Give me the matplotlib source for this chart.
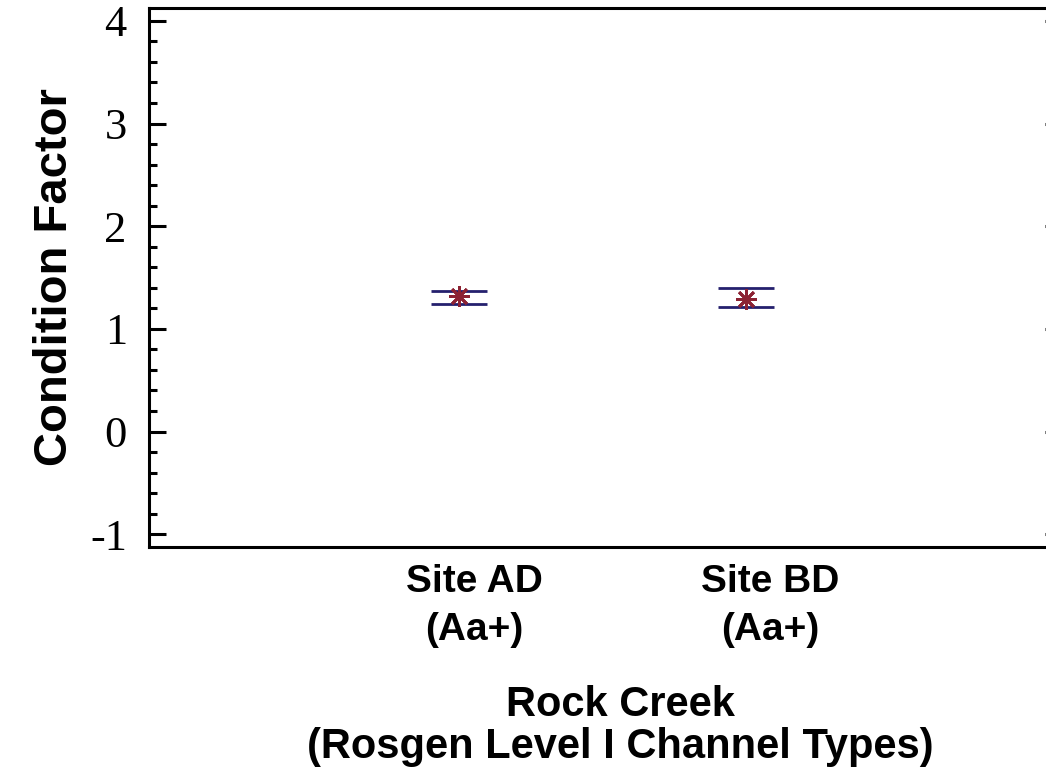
import numpy as np
import matplotlib
matplotlib.use("Agg")
from matplotlib import pyplot as plt
from matplotlib.ticker import MultipleLocator

sites = ["Site AD\n(Aa+)", "Site BD\n(Aa+)"]
means = [1.32, 1.29]
upper = [1.37, 1.40]
lower = [1.245, 1.215]
yticks = [-1, 0, 1, 2, 3, 4]

blue = "#25206e"
red = "#8c2233"

fig = plt.figure(figsize=(10.46, 7.75), dpi=100)
ax = fig.add_axes([149 / 1046, 1 - 547 / 775, 899 / 1046, 539 / 775])

x = np.arange(1, len(sites) + 1)
m = np.array(means)
yerr = [m - np.array(lower), np.array(upper) - m]
ax.errorbar(x, m, yerr=yerr, fmt="none", ecolor=blue, elinewidth=2,
            capsize=20, capthick=2, zorder=2)
ax.plot(x, m, linestyle="none", marker=(8, 2, 0), markersize=15,
        markeredgewidth=2, color=red, zorder=3)

ax.set_xlim(-0.08, 3.05)
ax.set_ylim(-1.125, 4.125)
ax.set_yticks(yticks)
ax.set_yticklabels([str(v) for v in yticks], fontfamily="Liberation Serif",
                   fontsize=32)
ax.yaxis.set_minor_locator(MultipleLocator(0.2))
ax.set_xticks([])
ax.tick_params(axis="y", which="major", direction="in", length=12, width=2.2,
               right=True, pad=16)
ax.tick_params(axis="y", which="minor", direction="in", length=6, width=2.2,
               right=False)
for t in ax.yaxis.get_major_ticks():
    t.tick2line.set_markersize(2.2)

for s in ax.spines.values():
    s.set_linewidth(2.2)

# category labels sit a little right of the marks, as in the original
shifts = [11, 17]
for xi, lab, dx in zip(x, sites, shifts):
    ax.annotate(lab, xy=(xi, 0), xycoords=ax.get_xaxis_transform(),
                xytext=(dx, -12), textcoords="offset points",
                ha="center", va="top", multialignment="center",
                fontfamily="Liberation Sans", fontweight="bold",
                fontsize=28, linespacing=1.45, annotation_clip=False)

ax.set_ylabel("Condition Factor", fontfamily="Liberation Sans",
              fontweight="bold", fontsize=34, labelpad=9)
ax.set_xlabel("Rock Creek\n(Rosgen Level I Channel Types)",
              fontfamily="Liberation Sans", fontweight="bold", fontsize=30,
              linespacing=1.05, va="top")
ax.xaxis.set_label_coords(0.524, -0.256)

fig.savefig("out.png", dpi=100)
